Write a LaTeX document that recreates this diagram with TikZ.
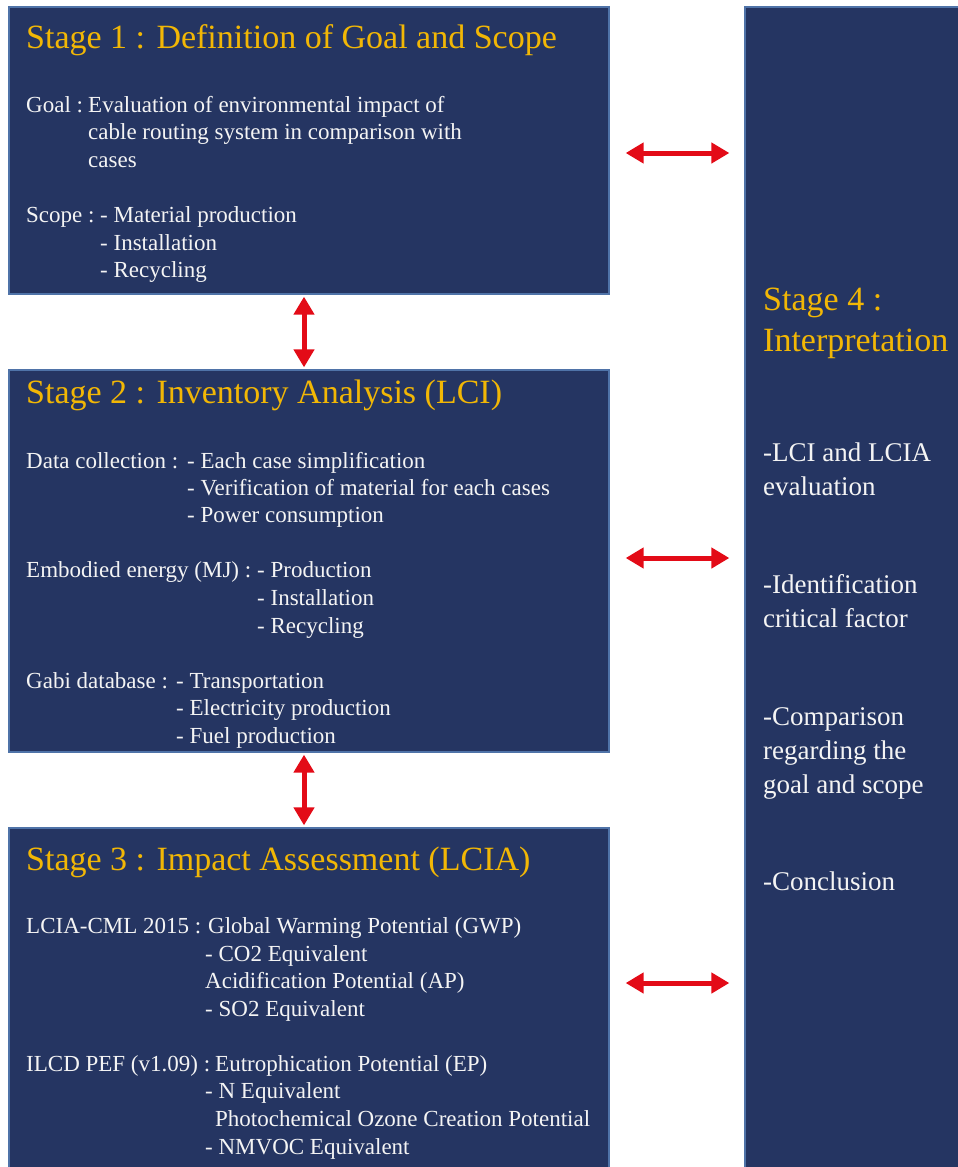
\documentclass[tikz,border=0pt]{standalone}
\usepackage{fontspec}
\setmainfont{Liberation Serif}
\usetikzlibrary{arrows.meta,calc}
\definecolor{navy}{HTML}{253562}
\definecolor{edgeblue}{HTML}{4F73A8}
\definecolor{gold}{HTML}{F2B705}
\definecolor{txtwhite}{HTML}{F4F4F4}
\definecolor{arrred}{HTML}{E30B17}
\tikzset{
  stagebox/.style={draw=edgeblue, fill=navy, line width=1.3pt, inner sep=0pt, anchor=center},
  ttl/.style={text=gold, font=\fontsize{34}{40}\selectfont, anchor=base west, inner sep=0pt},
  bd/.style={text=txtwhite, font=\fontsize{23}{27}\selectfont, anchor=base west, inner sep=0pt},
  bdf/.style={text=txtwhite, font=\fontsize{27}{34}\selectfont, anchor=base west, inner sep=0pt},
  arr/.style={draw=arrred, line width=5pt, {Triangle[width=20pt,length=18pt]}-{Triangle[width=20pt,length=18pt]}},
}
\begin{document}
\begin{tikzpicture}[x=1pt,y=-1pt]
\useasboundingbox (0,0) rectangle (958,1167);
% boxes
\node[stagebox, minimum width=600pt, minimum height=287pt] (b1) at (309,150.5) {};
\node[stagebox, minimum width=600pt, minimum height=382pt] (b2) at (309,561) {};
\node[stagebox, minimum width=600pt, minimum height=344pt] (b3) at (309,1000) {};
\node[stagebox, minimum width=217pt, minimum height=1165pt] (b4) at (853.5,589.5) {};
% stage 1
\node[ttl] (t1) at (26,48) {Stage 1 : Definition of Goal and Scope};
\node[bd] (g0) at (26,112) {Goal :};
\node[bd] (g1) at (88,112) {Evaluation of environmental impact of};
\node[bd] (g2) at (88,139) {cable routing system in comparison with};
\node[bd] (g3) at (88,167) {cases};
\node[bd] (s0) at (26,222) {Scope :};
\node[bd] (s1) at (100,222) {- Material production};
\node[bd] (s2) at (100,250) {- Installation};
\node[bd] (s3) at (100,277) {- Recycling};
% stage 2
\node[ttl] (t2) at (26,403) {Stage 2 : Inventory Analysis (LCI)};
\node[bd] (d0) at (26,468) {Data collection :};
\node[bd] (d1) at (187,468) {- Each case simplification};
\node[bd] (d2) at (187,495) {- Verification of material for each cases};
\node[bd] (d3) at (187,522) {- Power consumption};
\node[bd] (e0) at (26,577) {Embodied energy (MJ) :};
\node[bd] (e1) at (257,577) {- Production};
\node[bd] (e2) at (257,605) {- Installation};
\node[bd] (e3) at (257,633) {- Recycling};
\node[bd] (k0) at (26,688) {Gabi database :};
\node[bd] (k1) at (176,688) {- Transportation};
\node[bd] (k2) at (176,715) {- Electricity production};
\node[bd] (k3) at (176,743) {- Fuel production};
% stage 3
\node[ttl] (t3) at (26,870) {Stage 3 : Impact Assessment (LCIA)};
\node[bd] (c0) at (26,933) {LCIA-CML 2015 :};
\node[bd] (c1) at (208,933) {Global Warming Potential (GWP)};
\node[bd] (c2) at (205,961) {- CO2 Equivalent};
\node[bd] (c3) at (205,988) {Acidification Potential (AP)};
\node[bd] (c4) at (205,1016) {- SO2 Equivalent};
\node[bd] (p0) at (26,1071) {ILCD PEF (v1.09) :};
\node[bd] (p1) at (215,1071) {Eutrophication Potential (EP)};
\node[bd] (p2) at (205,1098) {- N Equivalent};
\node[bd] (p3) at (215,1126) {Photochemical Ozone Creation Potential};
\node[bd] (p4) at (205,1154) {- NMVOC Equivalent};
% stage 4
\node[ttl] (t4a) at (763,310) {Stage 4 :};
\node[ttl] (t4b) at (763,351) {Interpretation};
\node[bdf] (i1) at (763,461) {-LCI and LCIA};
\node[bdf] (i2) at (763,495) {evaluation};
\node[bdf] (i3) at (763,593) {-Identification};
\node[bdf] (i4) at (763,627) {critical factor};
\node[bdf] (i5) at (763,725) {-Comparison};
\node[bdf] (i6) at (763,759) {regarding the};
\node[bdf] (i7) at (763,793) {goal and scope};
\node[bdf] (i8) at (763,890) {-Conclusion};
% arrows
\draw[arr] ($(b1.south)+(-5,2)$) -- ($(b2.north)+(-5,-2)$);
\draw[arr] ($(b2.south)+(-5,2)$) -- ($(b3.north)+(-5,-2)$);
\draw[arr] ($(b1.east)+(16,2.5)$) -- ($(b1.east -| b4.west)+(-15,2.5)$);
\draw[arr] ($(b2.east)+(16,-3)$) -- ($(b2.east -| b4.west)+(-15,-3)$);
\draw[arr] ($(b3.east)+(16,-17)$) -- ($(b3.east -| b4.west)+(-15,-17)$);
\end{tikzpicture}
\end{document}
